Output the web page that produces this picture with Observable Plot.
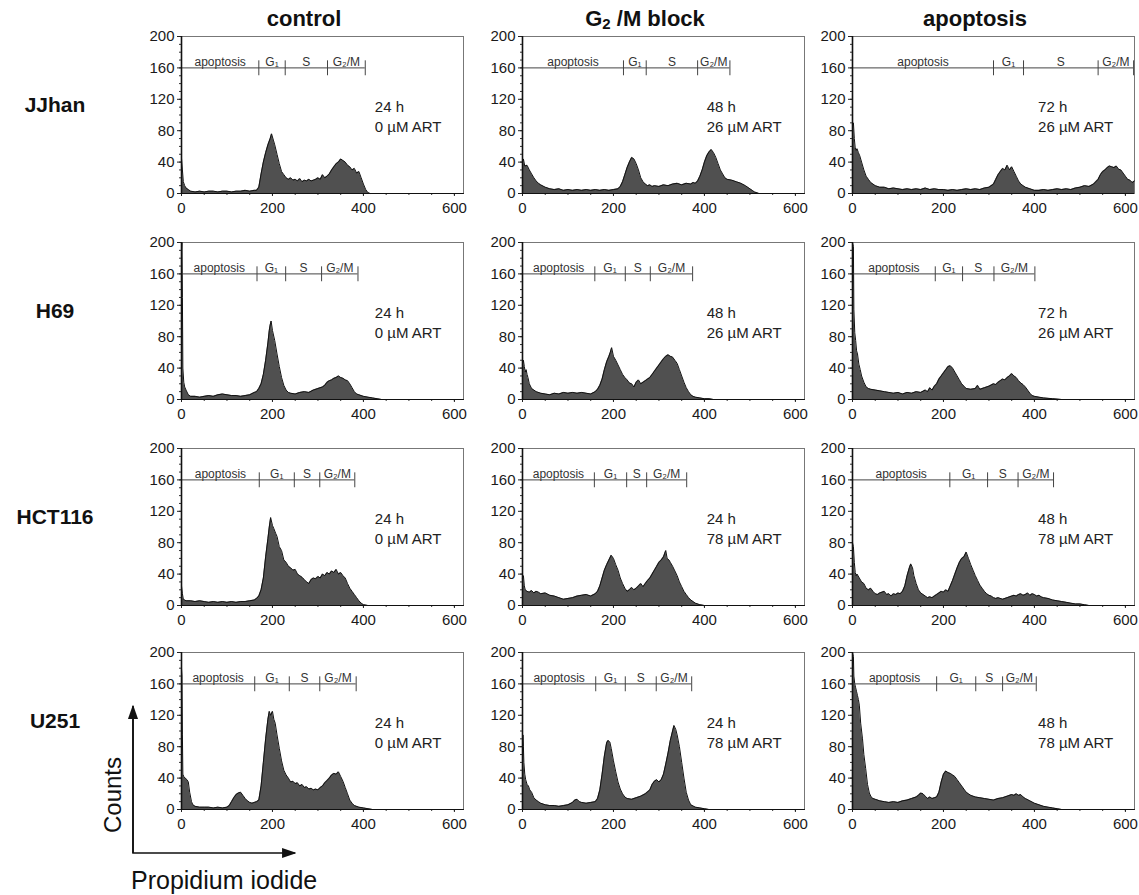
<!DOCTYPE html>
<html>
<head>
<meta charset="utf-8">
<script src="https://cdn.jsdelivr.net/npm/d3@7"></script>
<script src="https://cdn.jsdelivr.net/npm/@observablehq/plot@0.6"></script>
<style>
  html, body { margin: 0; padding: 0; background: #fff; }
  #fig { position: relative; width: 1139px; height: 895px; font-family: "Liberation Sans", Arial, sans-serif; color: #111; overflow: hidden; }
  .panel { position: absolute; }
  .coltitle { position: absolute; font-weight: bold; font-size: 22px; text-align: center; width: 300px; }
  .coltitle sub { font-size: 15px; vertical-align: -3px; }
  .rowlabel { position: absolute; font-weight: bold; font-size: 21px; text-align: center; width: 110px; }
</style>
</head>
<body>
<div id="fig"></div>
<script>
// ---------------- data ----------------
const cellLines = ["JJhan", "H69", "HCT116", "U251"];
const conditionTitles = ["control", "G<sub>2</sub> /M block", "apoptosis"];
const phaseLabels = ["apoptosis", "G\u2081", "S", "G\u2082/M"];
const xTicks = [0, 200, 400, 600];
const yTicks = [0, 40, 80, 120, 160, 200];

const times = [
  ["24 h", "48 h", "72 h"],
  ["24 h", "48 h", "72 h"],
  ["24 h", "24 h", "48 h"],
  ["24 h", "24 h", "48 h"]
];
const doses = [
  ["0 \u00b5M ART", "26 \u00b5M ART", "26 \u00b5M ART"],
  ["0 \u00b5M ART", "26 \u00b5M ART", "26 \u00b5M ART"],
  ["0 \u00b5M ART", "78 \u00b5M ART", "78 \u00b5M ART"],
  ["0 \u00b5M ART", "78 \u00b5M ART", "78 \u00b5M ART"]
];

// gate boundaries (propidium iodide channel)
const gatesJJhanControl = [0, 170, 228, 321, 404];
const gatesJJhanG2M = [0, 222, 272, 385, 456];
const gatesJJhanApoptosis = [0, 310, 376, 540, 618];
const gatesH69Control = [0, 166, 229, 308, 388];
const gatesH69G2M = [0, 159, 226, 281, 374];
const gatesH69Apoptosis = [0, 182, 242, 311, 401];
const gatesHCT116Control = [0, 171, 248, 304, 381];
const gatesHCT116G2M = [0, 158, 229, 273, 361];
const gatesHCT116Apoptosis = [0, 214, 297, 364, 442];
const gatesU251Control = [0, 161, 237, 304, 384];
const gatesU251G2M = [0, 161, 226, 294, 372];
const gatesU251Apoptosis = [0, 185, 271, 330, 404];

// histograms: [channel, counts]
const jjhanControl = [[0,45],[2,30],[4,15],[7,10],[10,7],[15,5],[20,3],[30,2],[40,3],[50,2],[60,3],[70,3],[80,2],[90,3],[100,3],[110,2],[120,3],[130,3],[140,4],[150,3],[160,4],[165,4],[170,8],[175,25],[180,40],[185,52],[190,62],[195,70],[198,76],[202,68],[205,62],[210,50],[215,38],[220,28],[225,24],[230,20],[235,18],[240,20],[245,17],[250,18],[255,16],[260,19],[265,15],[270,17],[275,16],[280,18],[285,16],[290,17],[295,18],[300,20],[305,18],[310,24],[315,20],[320,22],[325,25],[330,30],[335,34],[340,38],[345,40],[350,44],[355,42],[360,40],[365,36],[370,34],[375,30],[380,32],[385,26],[390,28],[395,20],[400,12],[405,5],[410,1],[415,0],[620,0]];
const jjhanG2M = [[0,40],[2,44],[5,35],[10,36],[15,30],[20,25],[25,20],[30,16],[35,13],[40,11],[50,8],[60,6],[70,5],[80,6],[90,4],[100,5],[110,4],[120,5],[130,4],[140,5],[150,4],[160,5],[170,4],[180,5],[190,4],[200,5],[210,6],[215,9],[220,15],[225,24],[230,33],[235,40],[240,46],[245,44],[250,38],[255,30],[260,20],[265,15],[270,12],[275,10],[280,11],[285,9],[290,10],[300,9],[310,11],[320,10],[330,12],[340,13],[350,11],[360,13],[370,12],[375,14],[380,13],[385,16],[390,22],[395,30],[400,40],[405,48],[410,53],[415,56],[420,52],[425,46],[430,38],[435,30],[440,25],[445,20],[450,18],[460,17],[470,15],[480,13],[490,10],[500,6],[505,4],[510,2],[520,0],[620,0]];
const jjhanApoptosis = [[0,88],[2,90],[4,70],[6,58],[8,55],[10,57],[13,52],[16,48],[20,40],[25,30],[30,22],[35,18],[40,14],[50,10],[60,8],[70,8],[80,6],[90,7],[100,6],[110,5],[120,6],[130,5],[140,6],[150,5],[160,7],[170,5],[180,6],[190,5],[200,5],[210,4],[220,5],[230,4],[240,5],[250,6],[260,5],[270,6],[280,5],[290,7],[300,8],[310,12],[315,18],[320,24],[325,28],[330,32],[335,30],[340,36],[345,30],[350,34],[355,28],[360,22],[365,16],[370,12],[375,10],[380,8],[390,6],[400,4],[410,4],[420,5],[430,4],[440,5],[450,6],[460,5],[470,6],[480,5],[490,7],[500,8],[510,10],[520,9],[530,12],[540,18],[545,24],[550,28],[555,30],[560,33],[565,35],[570,34],[575,33],[580,35],[585,31],[590,30],[595,26],[600,22],[605,18],[610,17],[615,14],[620,16]];

const h69Control = [[0,190],[1,200],[2,130],[3,40],[5,22],[7,16],[10,12],[15,6],[20,4],[30,4],[40,3],[50,4],[60,5],[70,4],[80,6],[90,7],[100,6],[110,5],[120,5],[130,4],[140,5],[150,6],[160,9],[165,10],[170,14],[175,20],[180,32],[185,50],[190,72],[193,88],[195,95],[197,100],[200,88],[205,75],[210,58],[215,42],[220,28],[225,18],[230,12],[235,9],[240,8],[250,7],[260,9],[270,10],[280,9],[290,12],[300,14],[310,16],[315,18],[320,22],[325,24],[330,25],[335,27],[340,28],[345,30],[350,28],[355,27],[360,25],[365,24],[370,20],[375,15],[380,10],[385,7],[390,6],[400,4],[410,3],[420,2],[430,1],[440,0],[620,0]];
const h69G2M = [[0,45],[2,50],[4,42],[6,35],[8,38],[10,32],[12,28],[15,20],[20,14],[25,12],[30,10],[40,8],[50,7],[60,6],[70,8],[80,7],[90,9],[100,8],[110,9],[120,8],[130,9],[140,8],[150,7],[160,10],[165,13],[170,18],[175,26],[180,38],[185,48],[190,55],[193,60],[196,66],[200,55],[205,50],[210,44],[215,38],[220,32],[225,28],[230,25],[235,21],[240,20],[245,16],[250,22],[255,25],[260,20],[265,22],[270,24],[275,26],[280,28],[285,32],[290,36],[295,40],[300,44],[305,48],[310,52],[315,55],[320,57],[325,55],[330,54],[335,50],[340,46],[345,38],[350,30],[355,22],[360,15],[365,10],[370,6],[375,4],[380,3],[390,2],[400,1],[410,1],[420,0],[620,0]];
const h69Apoptosis = [[0,200],[2,195],[3,115],[5,85],[7,75],[9,62],[11,58],[14,45],[17,38],[20,30],[25,22],[30,16],[35,14],[40,13],[50,12],[60,11],[70,10],[80,9],[90,8],[100,9],[110,7],[120,9],[130,8],[140,10],[150,9],[160,12],[165,10],[170,15],[175,12],[180,17],[185,20],[190,26],[195,30],[200,34],[205,38],[210,42],[215,43],[220,40],[225,35],[230,30],[235,25],[240,20],[245,17],[250,14],[260,13],[270,14],[275,18],[280,13],[290,15],[300,17],[310,20],[315,19],[320,22],[325,24],[330,26],[335,25],[340,28],[345,30],[350,33],[355,30],[360,28],[365,24],[370,21],[375,19],[380,16],[385,12],[390,8],[395,5],[400,4],[410,3],[420,2],[440,1],[460,0],[620,0]];

const hct116Control = [[0,25],[2,15],[4,8],[7,7],[10,6],[20,6],[30,5],[40,6],[50,5],[60,4],[70,5],[80,4],[90,5],[100,4],[110,5],[120,4],[130,5],[140,5],[150,6],[160,7],[165,9],[170,12],[175,20],[180,35],[185,62],[190,85],[193,100],[196,112],[200,102],[203,98],[207,92],[210,88],[215,75],[220,70],[225,58],[230,55],[235,50],[240,48],[245,45],[250,46],[255,40],[260,38],[265,36],[270,33],[275,30],[280,28],[285,33],[290,35],[295,34],[300,37],[305,35],[310,40],[315,38],[320,42],[325,40],[330,44],[335,42],[340,46],[345,40],[350,42],[355,38],[360,35],[365,28],[370,22],[375,18],[380,14],[385,10],[390,6],[395,3],[400,1],[410,0],[620,0]];
const hct116G2M = [[0,35],[2,38],[4,25],[6,20],[10,18],[15,17],[20,19],[25,16],[30,18],[35,17],[40,15],[50,16],[60,13],[70,12],[80,10],[90,8],[100,9],[110,10],[120,12],[130,13],[140,14],[150,12],[160,15],[165,18],[170,25],[175,35],[180,45],[185,52],[190,58],[195,64],[200,60],[205,52],[210,45],[215,35],[220,28],[225,22],[230,18],[235,20],[240,23],[245,20],[250,22],[255,25],[260,28],[265,24],[270,28],[275,32],[280,35],[285,40],[290,45],[295,50],[300,55],[305,58],[310,62],[315,70],[318,60],[322,58],[325,55],[330,50],[335,44],[340,38],[345,30],[350,24],[355,18],[360,14],[365,10],[370,7],[375,5],[380,3],[390,1],[400,0],[620,0]];
const hct116Apoptosis = [[0,80],[2,75],[4,55],[6,42],[8,38],[10,40],[15,35],[20,30],[25,28],[30,22],[35,20],[40,22],[45,18],[50,15],[55,14],[60,16],[70,18],[75,14],[80,15],[85,12],[90,15],[95,14],[100,16],[105,15],[110,18],[115,25],[120,38],[125,48],[128,53],[132,48],[135,38],[140,28],[145,20],[150,16],[155,14],[160,12],[165,10],[170,11],[175,10],[180,12],[185,14],[190,16],[195,18],[200,17],[205,20],[210,18],[215,25],[220,32],[225,40],[230,48],[235,55],[240,60],[245,62],[250,68],[253,63],[255,60],[260,52],[265,45],[270,38],[275,32],[280,26],[285,22],[290,18],[295,15],[300,13],[305,12],[310,10],[315,9],[320,10],[330,8],[340,10],[350,12],[355,13],[360,12],[365,14],[370,15],[375,13],[380,14],[385,16],[390,13],[395,15],[400,14],[405,12],[410,13],[415,11],[420,10],[430,9],[440,7],[450,6],[460,5],[470,4],[480,3],[490,2],[500,2],[510,1],[520,0],[620,0]];

const u251Control = [[0,180],[1,170],[2,95],[3,45],[5,42],[8,40],[12,38],[15,35],[18,22],[22,10],[25,6],[30,4],[40,3],[50,3],[60,3],[70,2],[80,3],[90,2],[100,3],[105,5],[110,10],[115,15],[120,19],[125,21],[130,22],[135,18],[140,14],[145,11],[150,9],[155,8],[160,9],[165,10],[170,12],[175,30],[180,60],[185,90],[190,115],[193,125],[196,120],[200,125],[203,115],[206,110],[210,95],[215,78],[220,62],[225,50],[230,44],[235,40],[240,35],[245,36],[250,33],[255,34],[260,30],[265,32],[270,28],[275,29],[280,26],[285,27],[290,25],[295,26],[300,25],[305,28],[310,30],[315,34],[320,37],[325,40],[330,44],[335,46],[340,45],[345,48],[350,42],[355,36],[360,28],[365,20],[370,12],[375,8],[380,5],[390,3],[400,2],[410,1],[420,0],[620,0]];
const u251G2M = [[0,60],[1,95],[2,80],[3,60],[5,45],[7,38],[10,32],[13,30],[16,25],[20,22],[25,15],[30,12],[35,10],[40,8],[50,6],[60,5],[70,5],[80,4],[90,5],[100,6],[110,9],[115,12],[120,13],[125,10],[130,9],[140,8],[150,9],[160,10],[165,14],[170,25],[175,45],[180,68],[185,85],[188,88],[192,86],[195,78],[200,62],[205,48],[210,35],[215,26],[220,20],[225,16],[230,14],[240,13],[250,15],[260,17],[270,20],[280,25],[285,32],[290,36],[295,38],[300,35],[305,38],[310,45],[315,58],[320,72],[325,88],[330,100],[333,107],[337,102],[340,95],[345,80],[350,60],[355,40],[360,22],[365,12],[370,6],[380,3],[390,2],[400,1],[410,0],[620,0]];
const u251Apoptosis = [[0,200],[2,195],[3,170],[5,160],[7,155],[9,150],[11,145],[13,140],[15,133],[18,110],[22,90],[25,70],[29,52],[33,32],[37,21],[41,16],[45,14],[50,13],[60,11],[70,10],[80,9],[90,10],[100,9],[110,11],[120,12],[130,14],[140,16],[145,18],[150,21],[155,20],[160,17],[165,14],[170,16],[175,14],[180,15],[185,16],[190,22],[195,35],[200,45],[205,49],[210,47],[215,46],[220,44],[225,42],[230,38],[235,34],[240,30],[245,26],[250,22],[255,20],[260,18],[270,16],[280,15],[290,14],[300,13],[310,12],[320,14],[330,15],[340,17],[350,19],[355,18],[360,20],[365,18],[370,19],[375,16],[380,14],[390,11],[400,8],[410,6],[420,4],[430,3],[440,2],[450,1],[460,0],[620,0]];

const histograms = [
  [jjhanControl, jjhanG2M, jjhanApoptosis],
  [h69Control, h69G2M, h69Apoptosis],
  [hct116Control, hct116G2M, hct116Apoptosis],
  [u251Control, u251G2M, u251Apoptosis]
];
const gates = [
  [gatesJJhanControl, gatesJJhanG2M, gatesJJhanApoptosis],
  [gatesH69Control, gatesH69G2M, gatesH69Apoptosis],
  [gatesHCT116Control, gatesHCT116G2M, gatesHCT116Apoptosis],
  [gatesU251Control, gatesU251G2M, gatesU251Apoptosis]
];

// ---------------- layout ----------------
const colX0 = [181, 522, 852];      // pixel of channel 0 in each column
const rowYTop = [36, 242, 448, 652]; // pixel of count 200 in each row
const textX = [425, 405, 408];
const mL = 45, mR = 5, mT = 8, mB = 25, innerW = 282, innerH = 157;
const FONT = '"Liberation Sans", Arial, Helvetica, sans-serif';

const fig = document.getElementById("fig");

function panel(r, c) {
  const data = histograms[r][c];
  const g = gates[r][c];
  const mids = phaseLabels.map((d, i) => ({label: d, x: (g[i] + g[i + 1]) / 2}));
  return Plot.plot({
    width: mL + innerW + mR,
    height: mT + innerH + mB,
    marginLeft: mL, marginRight: mR, marginTop: mT, marginBottom: mB,
    x: {domain: [0, 620]},
    y: {domain: [0, 200]},
    style: {fontFamily: FONT, fontSize: "15px", color: "#1a1a1a", background: "transparent", overflow: "visible"},
    marks: [
      Plot.frame({stroke: "#777", strokeWidth: 1}),
      Plot.areaY(data, {x: d => d[0], y: d => d[1], fill: "#505050"}),
      Plot.lineY(data, {x: d => d[0], y: d => d[1], stroke: "#111", strokeWidth: 1}),
      // phase gates
      Plot.ruleY([160], {x1: 0, x2: g[g.length - 1], stroke: "#444", strokeWidth: 1}),
      Plot.ruleX(g, {y1: 150, y2: 169, stroke: "#444", strokeWidth: 1}),
      Plot.text(mids, {x: "x", y: 162, text: "label", lineAnchor: "bottom", fontSize: 12, fill: "#333"}),
      // condition text
      Plot.text([times[r][c]], {x: textX[c], y: 110, text: d => d, textAnchor: "start", fontSize: 15, fill: "#222"}),
      Plot.text([doses[r][c]], {x: textX[c], y: 84, text: d => d, textAnchor: "start", fontSize: 15, fill: "#222"}),
      // axes
      Plot.axisY({ticks: d3.range(0, 201, 10), tickSize: 2, tickFormat: () => "", label: null, stroke: "#333"}),
      Plot.axisY({ticks: yTicks, tickSize: 4, tickPadding: 3, label: null, fontSize: 15, stroke: "#222"}),
      Plot.axisX({ticks: d3.range(0, 621, 50), tickSize: 2, tickFormat: () => "", label: null, stroke: "#333"}),
      Plot.axisX({ticks: xTicks, tickSize: 3, tickPadding: 6, label: null, fontSize: 15, stroke: "#222"}),
      Plot.ruleX([0], {stroke: "#111", strokeWidth: 1.6}),
      Plot.ruleY([0], {stroke: "#111", strokeWidth: 1.2})
    ]
  });
}

for (let r = 0; r < 4; r++) {
  for (let c = 0; c < 3; c++) {
    const div = document.createElement("div");
    div.className = "panel";
    div.style.left = (colX0[c] - mL) + "px";
    div.style.top = (rowYTop[r] - mT) + "px";
    div.appendChild(panel(r, c));
    fig.appendChild(div);
  }
}

// column titles
conditionTitles.forEach((t, c) => {
  const d = document.createElement("div");
  d.className = "coltitle";
  d.innerHTML = t;
  d.style.left = (colX0[c] + innerW / 2 - 150 - 18) + "px";
  d.style.top = "6px";
  fig.appendChild(d);
});

// row labels
cellLines.forEach((t, r) => {
  const d = document.createElement("div");
  d.className = "rowlabel";
  d.textContent = t;
  d.style.left = "0px";
  d.style.top = (rowYTop[r] + 57) + "px";
  fig.appendChild(d);
});

// axis-arrow key (Counts / Propidium iodide)
const ns = "http://www.w3.org/2000/svg";
const svg = document.createElementNS(ns, "svg");
svg.setAttribute("width", 1139);
svg.setAttribute("height", 895);
svg.style.position = "absolute";
svg.style.left = "0px";
svg.style.top = "0px";
svg.style.pointerEvents = "none";
svg.innerHTML = `
  <defs><marker id="ah" viewBox="0 0 10 10" refX="9" refY="5" markerWidth="9" markerHeight="9" orient="auto">
    <path d="M0,1.5 L10,5 L0,8.5 Z" fill="#111"/></marker></defs>
  <polyline points="133,708 133,853 295,853" fill="none" stroke="#111" stroke-width="1.6"
    marker-end="url(#ah)" />
  <line x1="133" y1="853" x2="133" y2="706" stroke="#111" stroke-width="1.6" marker-end="url(#ah)"/>
  <text x="0" y="0" transform="translate(121,795) rotate(-90)" text-anchor="middle"
    font-family='${FONT}' font-size="24" fill="#111">Counts</text>
  <text x="131" y="889" font-family='${FONT}' font-size="25" fill="#111">Propidium iodide</text>`;
fig.appendChild(svg);
</script>
</body>
</html>
